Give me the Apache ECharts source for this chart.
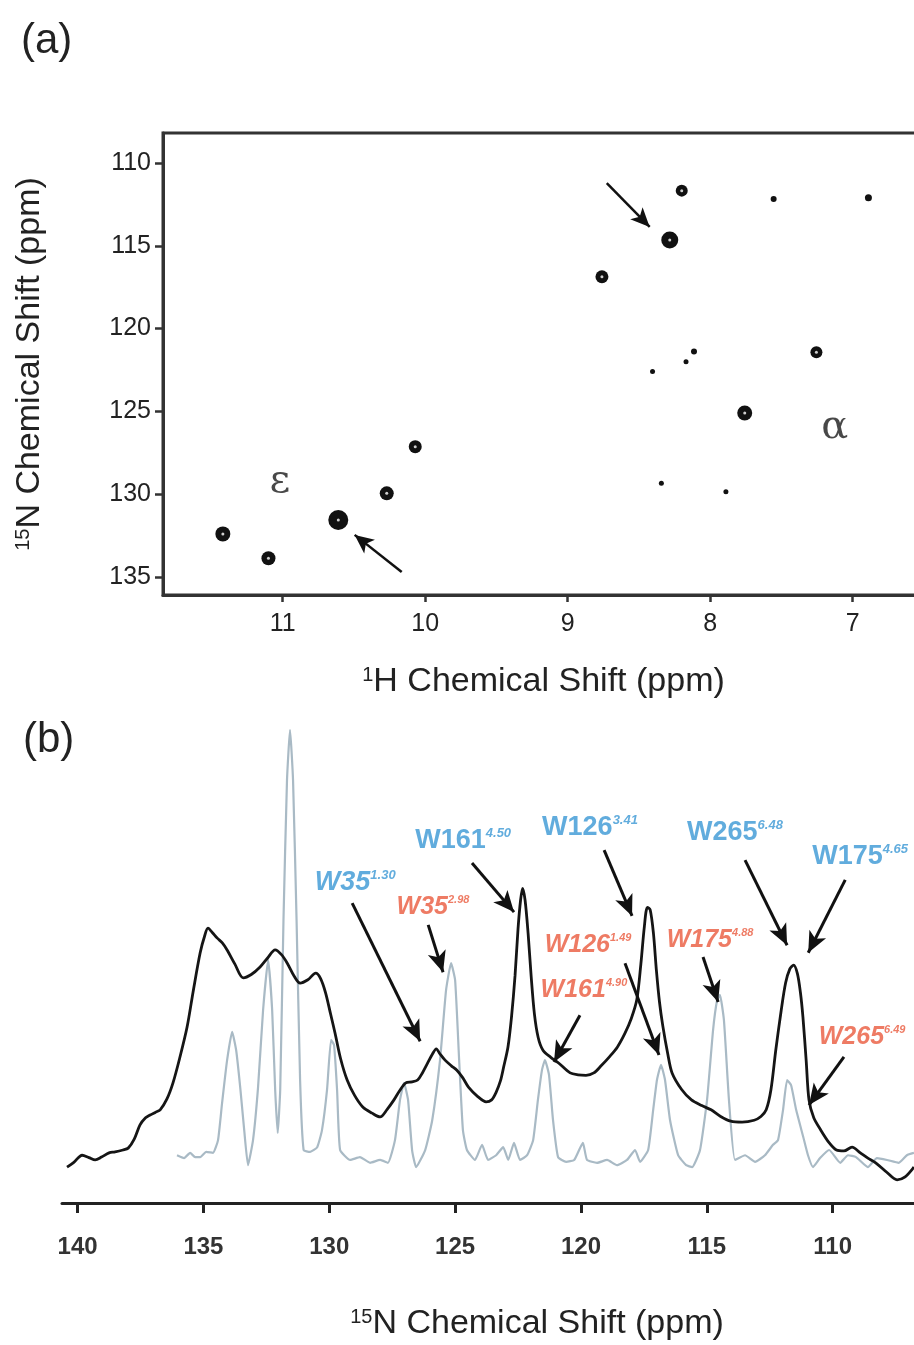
<!DOCTYPE html>
<html><head><meta charset="utf-8">
<script src="https://cdn.jsdelivr.net/npm/echarts@6/dist/echarts.min.js"></script>
<style>html,body{margin:0;padding:0;background:#fff}#c{width:914px;height:1345px}</style>
</head><body><div id="c"></div>
<script>
// ---------- Panel (a): 1H-15N correlation peaks ----------
const peakH    = [8.20, 7.555, 6.89, 8.284, 8.76, 8.114, 8.17, 8.405, 7.255, 7.758, 11.42, 11.10, 10.61, 10.27, 10.07, 8.343, 7.89];
const peakN    = [111.67, 112.17, 112.1, 114.65, 116.87, 121.39, 122.0, 122.6, 121.43, 125.1, 132.40, 133.87, 131.56, 129.95, 127.13, 129.34, 129.85];
const peakSize = [12, 6, 7, 17, 13, 6, 5, 5, 12, 15, 15, 14, 20, 14, 13, 5, 5];
const hTicks = [7, 8, 9, 10, 11];
const nTicks = [110, 115, 120, 125, 130, 135];
const greekText = ['ε', 'α'];
const greekPos  = [[11.02, 129.26], [7.126, 126.0]];
const aArrowFrom = [[8.726, 111.21], [10.165, 134.7]];
const aArrowTo   = [[8.425, 113.86], [10.495, 132.46]];

// ---------- Panel (b): 15N spectra (ppm, intensity) ----------
const ppmTicks = [110, 115, 120, 125, 130, 135, 140];
const graySpectrum = [
[136.05,10.1],[135.77,9.5],[135.53,10.6],[135.33,9.7],[135.13,9.7],[134.89,10.8],[134.62,10.6],[134.42,13.3],[134.26,21.1],[134.06,30.2],[133.86,36.2],[133.70,32.3],[133.54,24.5],[133.38,15.4],[133.23,8.0],[133.03,13.3],[132.83,24.5],[132.63,40.8],[132.43,51.4],[132.27,40.8],[132.15,23.9],[132.05,14.8],[131.95,23.9],[131.82,59.8],[131.68,89.4],[131.56,100],[131.44,89.4],[131.30,59.8],[131.16,26.0],[131.02,11.2],[130.76,10.8],[130.48,11.8],[130.29,15.4],[130.09,23.9],[129.93,34.5],[129.81,33.4],[129.69,23.9],[129.57,11.2],[129.17,9.1],[128.78,9.7],[128.38,8.5],[127.98,9.1],[127.67,8.5],[127.39,13.3],[127.19,21.8],[127.03,25.4],[126.87,21.8],[126.71,11.2],[126.55,7.6],[126.19,11.2],[125.91,17.5],[125.60,30.2],[125.36,45.0],[125.16,50.7],[125.00,47.1],[124.84,30.2],[124.69,15.4],[124.53,11.2],[124.21,9.1],[123.93,12.3],[123.69,9.1],[123.37,10.1],[123.09,11.8],[122.89,9.1],[122.66,12.7],[122.42,9.1],[122.14,10.1],[121.90,13.3],[121.71,21.8],[121.55,28.1],[121.43,30.2],[121.27,27.1],[121.11,17.5],[120.91,9.7],[120.59,8.7],[120.27,9.1],[120.04,11.6],[119.92,12.7],[119.76,9.1],[119.36,8.5],[118.96,9.1],[118.57,8.0],[118.17,9.1],[117.85,11.2],[117.65,8.7],[117.33,11.2],[117.13,19.7],[116.98,26.0],[116.82,29.2],[116.66,26.0],[116.46,17.5],[116.14,10.1],[115.82,8.0],[115.58,7.6],[115.27,11.2],[114.99,21.8],[114.75,36.6],[114.59,42.9],[114.48,44.0],[114.32,38.7],[114.12,21.8],[113.88,9.1],[113.48,10.1],[113.08,8.7],[112.69,10.1],[112.37,12.3],[112.17,13.3],[111.97,19.7],[111.81,26.0],[111.65,24.9],[111.45,19.7],[111.17,14.0],[110.98,10.1],[110.78,7.6],[110.50,9.5],[110.14,11.2],[109.70,8.5],[109.39,10.1],[109.07,9.7],[108.60,7.6],[108.24,9.5],[107.84,9.1],[107.37,8.5],[107.05,10.1],[106.77,10.6]
];
const blackSpectrum = [
[140.42,7.6],[140.15,8.6],[139.82,10.1],[139.55,9.6],[139.30,9.1],[139.05,9.7],[138.75,10.6],[138.51,10.8],[138.2,11.2],[137.99,11.6],[137.75,13.5],[137.52,16.5],[137.3,18.0],[137.12,18.6],[136.9,19.2],[136.72,19.7],[136.45,22.0],[136.21,25.4],[135.95,30.5],[135.65,37.2],[135.40,45.0],[135.13,52.9],[134.95,56.5],[134.82,58.1],[134.65,57.2],[134.45,56.0],[134.25,55.0],[134.06,53.5],[133.75,50.5],[133.42,47.6],[133.1,48.3],[132.75,49.9],[132.45,51.8],[132.15,53.5],[131.9,52.5],[131.67,50.7],[131.4,48.0],[131.16,46.5],[130.85,47.2],[130.54,48.6],[130.35,47.5],[130.15,44.5],[129.95,40.0],[129.77,35.9],[129.55,30.5],[129.29,26.0],[129.0,22.8],[128.67,20.3],[128.3,19.0],[127.98,18.2],[127.7,19.8],[127.43,21.8],[127.2,23.8],[126.96,25.4],[126.72,25.6],[126.49,26.0],[126.3,27.5],[126.1,29.5],[125.9,31.5],[125.75,32.6],[125.6,31.5],[125.40,30.2],[125.15,29.0],[124.94,28.1],[124.7,26.5],[124.47,24.5],[124.1,22.5],[123.77,21.4],[123.55,21.8],[123.38,23.3],[123.2,25.8],[123.07,28.8],[122.9,33],[122.76,39.3],[122.62,48],[122.5,58],[122.4,64],[122.32,66.5],[122.22,64],[122.1,57],[121.98,48],[121.85,40],[121.7,35],[121.51,32.3],[121.2,30.8],[120.89,29.6],[120.43,27.5],[120.11,27.1],[119.8,27.0],[119.49,27.5],[119.2,29.0],[118.87,30.9],[118.55,33.0],[118.25,35.9],[118.0,39.0],[117.78,43.0],[117.62,50.5],[117.48,58.5],[117.36,62.5],[117.25,62.0],[117.12,57.0],[117.0,49.0],[116.88,42.5],[116.75,37.5],[116.55,31.5],[116.38,27.5],[116.0,24.0],[115.61,21.8],[115.2,20.6],[114.83,19.7],[114.45,18.3],[114.05,17.3],[113.6,17.1],[113.12,17.5],[112.85,18.3],[112.64,19.7],[112.45,24.0],[112.26,32.3],[112.05,40.5],[111.87,46.5],[111.7,49.5],[111.55,50.3],[111.4,48.5],[111.28,44.5],[111.18,39.3],[111.05,30.0],[110.94,21.8],[110.75,18.0],[110.47,15.4],[110.15,12.8],[109.85,11.2],[109.55,11.0],[109.23,11.8],[108.9,10.6],[108.6,9.5],[108.29,8.5],[107.85,6.5],[107.44,4.9],[107.12,5.5],[106.77,7.6]
];
// annotation labels: name, superscript, position (ppm, intensity)
const blueNames = ['W35', 'W161', 'W126', 'W265', 'W175'];
const blueSups  = ['1.30', '4.50', '3.41', '6.48', '4.65'];
const bluePos   = [[128.97, 67.7], [124.68, 76.7], [119.64, 79.3], [113.88, 78.4], [108.91, 73.2]];
const blueItalic = [true, false, false, false, false];
const redNames = ['W35', 'W126', 'W161', 'W175', 'W265'];
const redSups  = ['2.98', '1.49', '4.90', '4.88', '6.49'];
const redPos   = [[125.88, 62.6], [119.72, 54.5], [119.88, 45.0], [114.87, 55.6], [108.83, 35.1]];
const bArrowFrom = [[129.09,63.4],[124.33,71.9],[119.08,74.6],[113.48,72.5],[109.50,68.3],[126.07,58.8],[120.04,39.7],[118.25,50.7],[115.15,52.0],[109.55,30.9]];
const bArrowTo   = [[126.39,34.2],[122.66,61.5],[117.97,60.7],[111.81,54.5],[110.97,52.9],[125.48,48.8],[121.07,29.8],[116.90,31.3],[114.55,42.5],[110.94,20.7]];

const FONT = 'Liberation Sans, Arial, sans-serif';
const BLUE = '#3a97d4', RED = '#ea5a3d';

const chart = echarts.init(document.getElementById('c'));
const arrowPairs = (from, to) => from.map((f, i) => [{coord: f}, {coord: to[i]}]);

const option = {
  animation: false,
  backgroundColor: '#fff',
  title: [
    {text: '(a)', left: 16, top: 15, textStyle: {fontSize: 42, fontWeight: 'normal', fontFamily: FONT, color: '#222'}},
    {text: '(b)', left: 18, top: 714, textStyle: {fontSize: 42, fontWeight: 'normal', fontFamily: FONT, color: '#222'}}
  ],
  grid: [
    {left: 163, top: 133, right: -10, bottom: 750, show: true, borderColor: '#333', borderWidth: 3,
     backgroundColor: 'transparent', outerBoundsMode: 'none', containLabel: false},
    {left: 62, top: 730, right: -10, bottom: 142, outerBoundsMode: 'none', containLabel: false}
  ],
  xAxis: [
    {gridIndex: 0, type: 'value', inverse: true, min: 6.5, max: 11.84,
     axisLine: {show: true, lineStyle: {color: '#333', width: 3}},
     axisTick: {show: true, length: 7, customValues: hTicks, lineStyle: {color: '#333', width: 2.5}},
     axisLabel: {customValues: hTicks, fontSize: 25, color: '#222', margin: 17, fontFamily: FONT},
     splitLine: {show: false},
     name: '{s|1}H Chemical Shift (ppm)', nameLocation: 'middle', nameGap: 70,
     nameTextStyle: {fontSize: 34, color: '#222', fontFamily: FONT,
       rich: {s: {fontSize: 20, color: '#222', fontFamily: FONT, verticalAlign: 'top'}}}},
    {gridIndex: 1, type: 'value', inverse: true, min: 106.37, max: 140.62,
     axisLine: {show: true, onZero: false, lineStyle: {color: '#222', width: 3}},
     axisTick: {show: true, length: 10, customValues: ppmTicks, lineStyle: {color: '#222', width: 3}},
     axisLabel: {customValues: ppmTicks, fontSize: 24, fontWeight: 'bold', color: '#333', margin: 32, fontFamily: FONT},
     splitLine: {show: false},
     name: '{s|15}N Chemical Shift (ppm)', nameLocation: 'middle', nameGap: 104,
     nameTextStyle: {fontSize: 34, color: '#222', fontFamily: FONT, padding: [0, 0, 0, 88],
       rich: {s: {fontSize: 20, color: '#222', fontFamily: FONT, verticalAlign: 'top'}}}}
  ],
  yAxis: [
    {gridIndex: 0, type: 'value', inverse: true, min: 108.19, max: 136.09,
     axisLine: {show: true, lineStyle: {color: '#333', width: 3}},
     axisTick: {show: true, length: 8, customValues: nTicks, lineStyle: {color: '#333', width: 2.5}},
     axisLabel: {customValues: nTicks, fontSize: 25, color: '#222', margin: 12, fontFamily: FONT},
     splitLine: {show: false},
     name: '{s|15}N Chemical Shift (ppm)', nameLocation: 'middle', nameGap: 116, nameRotate: 90,
     nameTextStyle: {fontSize: 34, color: '#222', fontFamily: FONT,
       rich: {s: {fontSize: 20, color: '#222', fontFamily: FONT, verticalAlign: 'top'}}}},
    {gridIndex: 1, type: 'value', min: 0, max: 100, show: false}
  ],
  series: [
    {type: 'scatter', xAxisIndex: 0, yAxisIndex: 0, silent: true,
     data: peakH.map((h, i) => [h, peakN[i], peakSize[i]]),
     symbol: 'circle', symbolSize: d => d[2],
     itemStyle: {color: '#111', opacity: 1},
     markLine: {silent: true, symbol: ['none', 'arrow'], symbolSize: [13, 19], label: {show: false},
       lineStyle: {color: '#111', width: 2.5, type: 'solid'}, emphasis: {disabled: true},
       data: arrowPairs(aArrowFrom, aArrowTo)}},
    {type: 'scatter', xAxisIndex: 0, yAxisIndex: 0, silent: true, z: 3,
     data: peakH.map((h, i) => [h, peakN[i], peakSize[i]]).filter(d => d[2] >= 12),
     symbol: 'circle', symbolSize: 3, itemStyle: {color: '#fff'}},
    {type: 'scatter', xAxisIndex: 0, yAxisIndex: 0, silent: true,
     data: greekPos.map((p, i) => ({value: p, name: greekText[i]})),
     symbolSize: 1, itemStyle: {color: 'rgba(0,0,0,0)'},
     label: {show: true, position: 'inside', formatter: p => p.name, fontSize: 40,
       fontFamily: 'DejaVu Serif, Liberation Serif, serif', color: '#1a1a1a'}},
    {type: 'line', xAxisIndex: 1, yAxisIndex: 1, silent: true, data: graySpectrum,
     showSymbol: false, smooth: 0.15, lineStyle: {color: '#a9bac5', width: 2.2}},
    {type: 'line', xAxisIndex: 1, yAxisIndex: 1, silent: true, data: blackSpectrum,
     showSymbol: false, smooth: 0.3, lineStyle: {color: '#151515', width: 2.8}},
    {type: 'scatter', xAxisIndex: 1, yAxisIndex: 1, silent: true, z: 5,
     data: bluePos.map((p, i) => ({value: p, name: blueNames[i], sup: blueSups[i], it: blueItalic[i]})),
     symbolSize: 1, itemStyle: {color: 'rgba(0,0,0,0)'},
     label: {show: true, position: 'inside', color: BLUE, fontFamily: FONT,
       formatter: p => (p.data.it ? '{mi|' : '{m|') + p.name + '}{s|' + p.data.sup + '}',
       rich: {m: {fontSize: 27, fontWeight: 'bold', color: BLUE, fontFamily: FONT},
              mi: {fontSize: 27, fontWeight: 'bold', fontStyle: 'italic', color: BLUE, fontFamily: FONT},
              s: {fontSize: 13, fontWeight: 'bold', fontStyle: 'italic', color: BLUE, fontFamily: FONT, verticalAlign: 'top'}}},
     markLine: {silent: true, symbol: ['none', 'arrow'], symbolSize: [14, 21], label: {show: false},
       lineStyle: {color: '#111', width: 3, type: 'solid'}, emphasis: {disabled: true},
       data: arrowPairs(bArrowFrom, bArrowTo)}},
    {type: 'scatter', xAxisIndex: 1, yAxisIndex: 1, silent: true, z: 5,
     data: redPos.map((p, i) => ({value: p, name: redNames[i], sup: redSups[i]})),
     symbolSize: 1, itemStyle: {color: 'rgba(0,0,0,0)'},
     label: {show: true, position: 'inside', color: RED, fontFamily: FONT,
       formatter: p => '{m|' + p.name + '}{s|' + p.data.sup + '}',
       rich: {m: {fontSize: 25, fontWeight: 'bold', fontStyle: 'italic', color: RED, fontFamily: FONT},
              s: {fontSize: 11, fontWeight: 'bold', fontStyle: 'italic', color: RED, fontFamily: FONT, verticalAlign: 'top'}}}}
  ]
};
chart.setOption(option);
</script>
</body></html>
